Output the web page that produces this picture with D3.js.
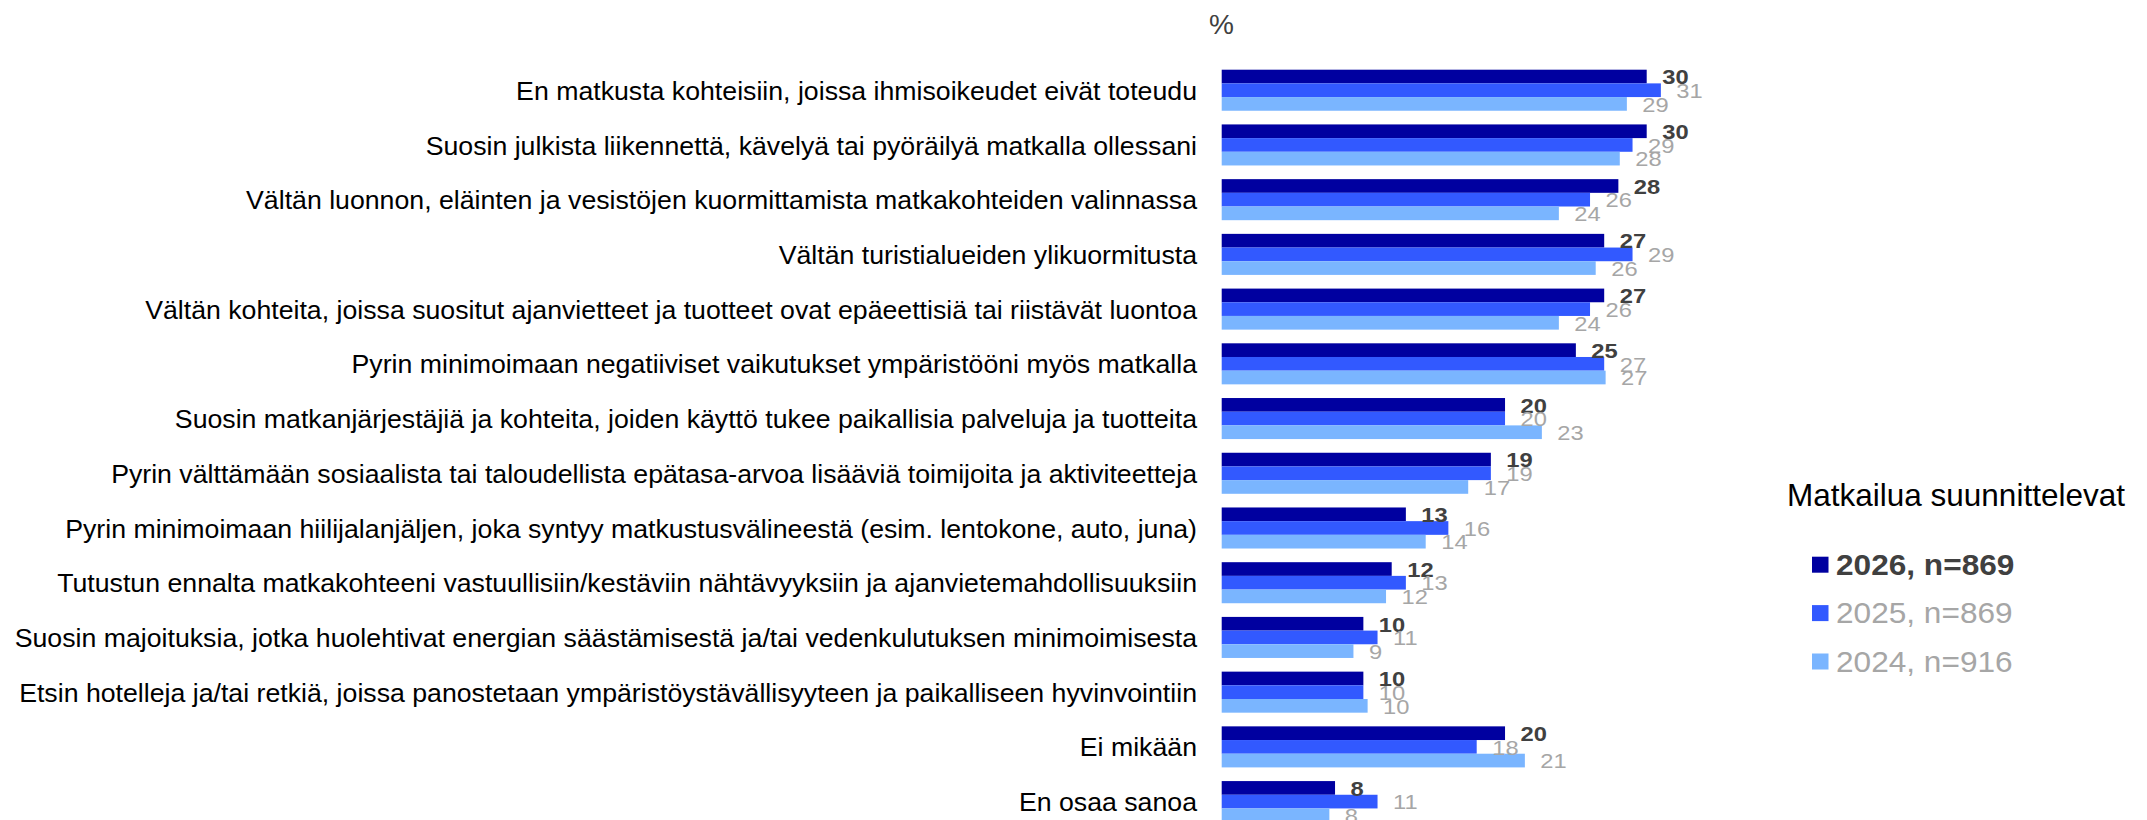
<!DOCTYPE html>
<html>
<head>
<meta charset="utf-8">
<script src="https://cdn.jsdelivr.net/npm/d3@7"></script>
<style>
  html, body { margin: 0; padding: 0; background: #fff; }
  svg { display: block; font-family: "Liberation Sans", Arial, sans-serif; }
</style>
</head>
<body>
<svg id="chart" width="2147" height="820"></svg>
<script>
const categories = [
  "En matkusta kohteisiin, joissa ihmisoikeudet eivät toteudu",
  "Suosin julkista liikennettä, kävelyä tai pyöräilyä matkalla ollessani",
  "Vältän luonnon, eläinten ja vesistöjen kuormittamista matkakohteiden valinnassa",
  "Vältän turistialueiden ylikuormitusta",
  "Vältän kohteita, joissa suositut ajanvietteet ja tuotteet ovat epäeettisiä tai riistävät luontoa",
  "Pyrin minimoimaan negatiiviset vaikutukset ympäristööni myös matkalla",
  "Suosin matkanjärjestäjiä ja kohteita, joiden käyttö tukee paikallisia palveluja ja tuotteita",
  "Pyrin välttämään sosiaalista tai taloudellista epätasa-arvoa lisääviä toimijoita ja aktiviteetteja",
  "Pyrin minimoimaan hiilijalanjäljen, joka syntyy matkustusvälineestä (esim. lentokone, auto, juna)",
  "Tutustun ennalta matkakohteeni vastuullisiin/kestäviin nähtävyyksiin ja ajanvietemahdollisuuksiin",
  "Suosin majoituksia, jotka huolehtivat energian säästämisestä ja/tai vedenkulutuksen minimoimisesta",
  "Etsin hotelleja ja/tai retkiä, joissa panostetaan ympäristöystävällisyyteen ja paikalliseen hyvinvointiin",
  "Ei mikään",
  "En osaa sanoa"
];
const values2026 = [30, 30, 28, 27, 27, 25, 20, 19, 13, 12, 10, 10, 20, 8];
const values2025 = [31, 29, 26, 29, 26, 27, 20, 19, 16, 13, 11, 10, 18, 11];
const values2024 = [28.6, 28.1, 23.8, 26.4, 23.8, 27.1, 22.6, 17.4, 14.4, 11.6, 9.3, 10.3, 21.4, 7.6];
const seriesNames = ["2026, n=869", "2025, n=869", "2024, n=916"];
const seriesColors = ["#0000a0", "#3259ff", "#7ab5ff"];
const legendTitle = "Matkailua suunnittelevat";
const unitLabel = "%";

const series = [
  { name: seriesNames[0], values: values2026, color: seriesColors[0], labelColor: "#404040", weight: "bold" },
  { name: seriesNames[1], values: values2025, color: seriesColors[1], labelColor: "#a6a6a6", weight: "normal" },
  { name: seriesNames[2], values: values2024, color: seriesColors[2], labelColor: "#a6a6a6", weight: "normal" }
];

const svg = d3.select("#chart");

const x = d3.scaleLinear().domain([0, 30]).range([1221.7, 1646.7]);
const y = d3.scaleBand().domain(categories).range([62.86, 828.96])
  .paddingInner(0.25).paddingOuter(0.125);
const ySub = d3.scaleBand().domain(seriesNames).range([0, y.bandwidth()]).padding(0);

// Category labels
svg.append("g").selectAll("text")
  .data(categories)
  .join("text")
  .attr("x", 1197)
  .attr("y", d => y(d) + y.bandwidth() / 2)
  .attr("dy", "0.36em")
  .attr("text-anchor", "end")
  .attr("font-size", 26.7)
  .attr("fill", "#000")
  .text(d => d);

// Bars
const groups = svg.append("g").selectAll("g")
  .data(categories.map((c, i) => ({ c, i })))
  .join("g")
  .attr("transform", d => `translate(0,${y(d.c)})`);

groups.selectAll("rect")
  .data(d => series.map(s => ({ s, v: s.values[d.i] })))
  .join("rect")
  .attr("x", x(0))
  .attr("y", d => ySub(d.s.name))
  .attr("width", d => x(d.v) - x(0))
  .attr("height", ySub.bandwidth())
  .attr("fill", d => d.s.color);

// Value labels (slightly wide glyphs, as in the reference)
groups.selectAll("text")
  .data(d => series.map(s => ({ s, v: s.values[d.i] })))
  .join("text")
  .attr("transform", d => `translate(${x(d.v) + 15.5},${ySub(d.s.name) + ySub.bandwidth() / 2}) scale(1.13,1)`)
  .attr("dy", "0.37em")
  .attr("font-size", 21)
  .attr("font-weight", d => d.s.weight)
  .attr("fill", d => d.s.labelColor)
  .text(d => Math.round(d.v));

// Unit label
svg.append("text")
  .attr("x", 1209)
  .attr("y", 34)
  .attr("font-size", 28)
  .attr("fill", "#404040")
  .text(unitLabel);

// Legend
const legend = svg.append("g");
legend.append("text")
  .attr("x", 1787)
  .attr("y", 505.5)
  .attr("font-size", 31.5)
  .attr("fill", "#000")
  .text(legendTitle);

const li = legend.selectAll("g.item")
  .data(series)
  .join("g")
  .attr("class", "item")
  .attr("transform", (d, i) => `translate(1812,${556.7 + i * 48.4})`);
li.append("rect")
  .attr("width", 16.5).attr("height", 16)
  .attr("fill", d => d.color);
li.append("text")
  .attr("transform", "translate(24,18.3) scale(1.09,1)")
  .attr("font-size", 29)
  .attr("font-weight", d => d.weight)
  .attr("fill", d => d.labelColor)
  .text(d => d.name);
</script>
</body>
</html>
